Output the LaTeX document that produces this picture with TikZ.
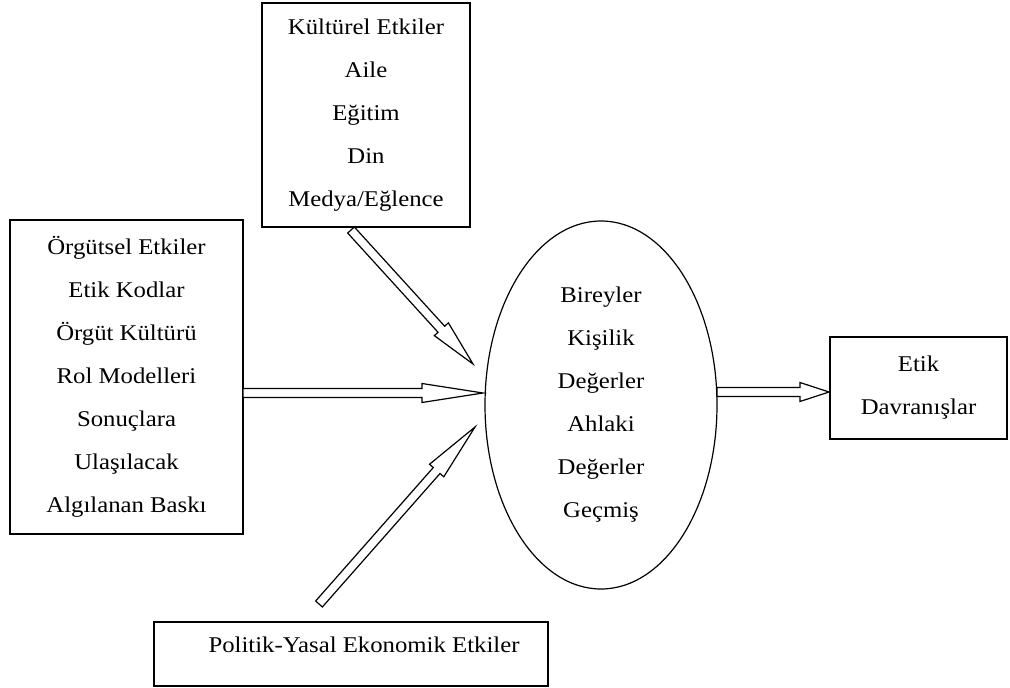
\documentclass[tikz,border=0pt]{standalone}
\usepackage{fontspec}
\setmainfont{Liberation Serif}[FakeStretch=1.1]
\usepackage{tikz}
\usetikzlibrary{
        calc,
        positioning,
        shapes,
        shapes.geometric
    }
\tikzset{frame/.style={draw,line width=1.2pt,inner sep=0pt,font=\fontsize{22.5}{43}\selectfont}}
\tikzset{box/.style={frame,align=center}}
\tikzset{blockarrow/.style={draw,line width=1.2pt,line join=miter,fill=white}}
% hollow block arrow: [head length]{tail}{tip}
\newcommand{\blockarrow}[3][30pt]{%
    \coordinate (ahbase) at ($(#3)!#1!(#2)$);
    \draw[blockarrow] ($(#2)!4.5pt!90:(#3)$) -- ($(ahbase)!4.5pt!90:(#3)$)
        -- ($(ahbase)!9.5pt!90:(#3)$) -- (#3) -- ($(ahbase)!9.5pt!-90:(#3)$)
        -- ($(ahbase)!4.5pt!-90:(#3)$) -- ($(#2)!4.5pt!-90:(#3)$) -- cycle;}

\begin{document}
\begin{tikzpicture}[x=1pt,y=-1pt]
                \useasboundingbox (0,0) rectangle (1010,688);
                \node[box,minimum width=208,minimum height=224] (kult) at (366,115)
                    {Kültürel Etkiler\\Aile\\Eğitim\\Din\\Medya/Eğlence};
                \node[box,minimum width=233,minimum height=314] (orgut) at (126.5,377)
                    {Örgütsel Etkiler\\Etik Kodlar\\Örgüt Kültürü\\Rol Modelleri\\Sonuçlara\\Ulaşılacak\\Algılanan Baskı};
                \node[box,ellipse,minimum width=232,minimum height=368] (birey) at (601,405)
                    {Bireyler\\Kişilik\\Değerler\\Ahlaki\\Değerler\\Geçmiş};
                \node[box,minimum width=177,minimum height=102] (etik) at (918.5,388)
                    {Etik\\Davranışlar};
                \node[frame,minimum width=394,text height=30pt,text depth=34pt,anchor=base] (pol) at (351,652)
                    {\hspace{26pt}Politik-Yasal Ekonomik Etkiler};
                % arrow ends
                \coordinate (kultout) at (351,230);
                \coordinate (kultin) at (473,364);
                \coordinate (orgutout) at (243,393);
                \coordinate (orgutin) at (483,393);
                \coordinate (polout) at (319,604);
                \coordinate (polin) at (475,427);
                \coordinate (bireyout) at (717,392);
                \coordinate (etikin) at (829,392);
                \blockarrow[47pt]{kultout}{kultin}
                \blockarrow[61pt]{orgutout}{orgutin}
                \blockarrow[58pt]{polout}{polin}
                \blockarrow[29pt]{bireyout}{etikin}
            \end{tikzpicture}
\end{document}
